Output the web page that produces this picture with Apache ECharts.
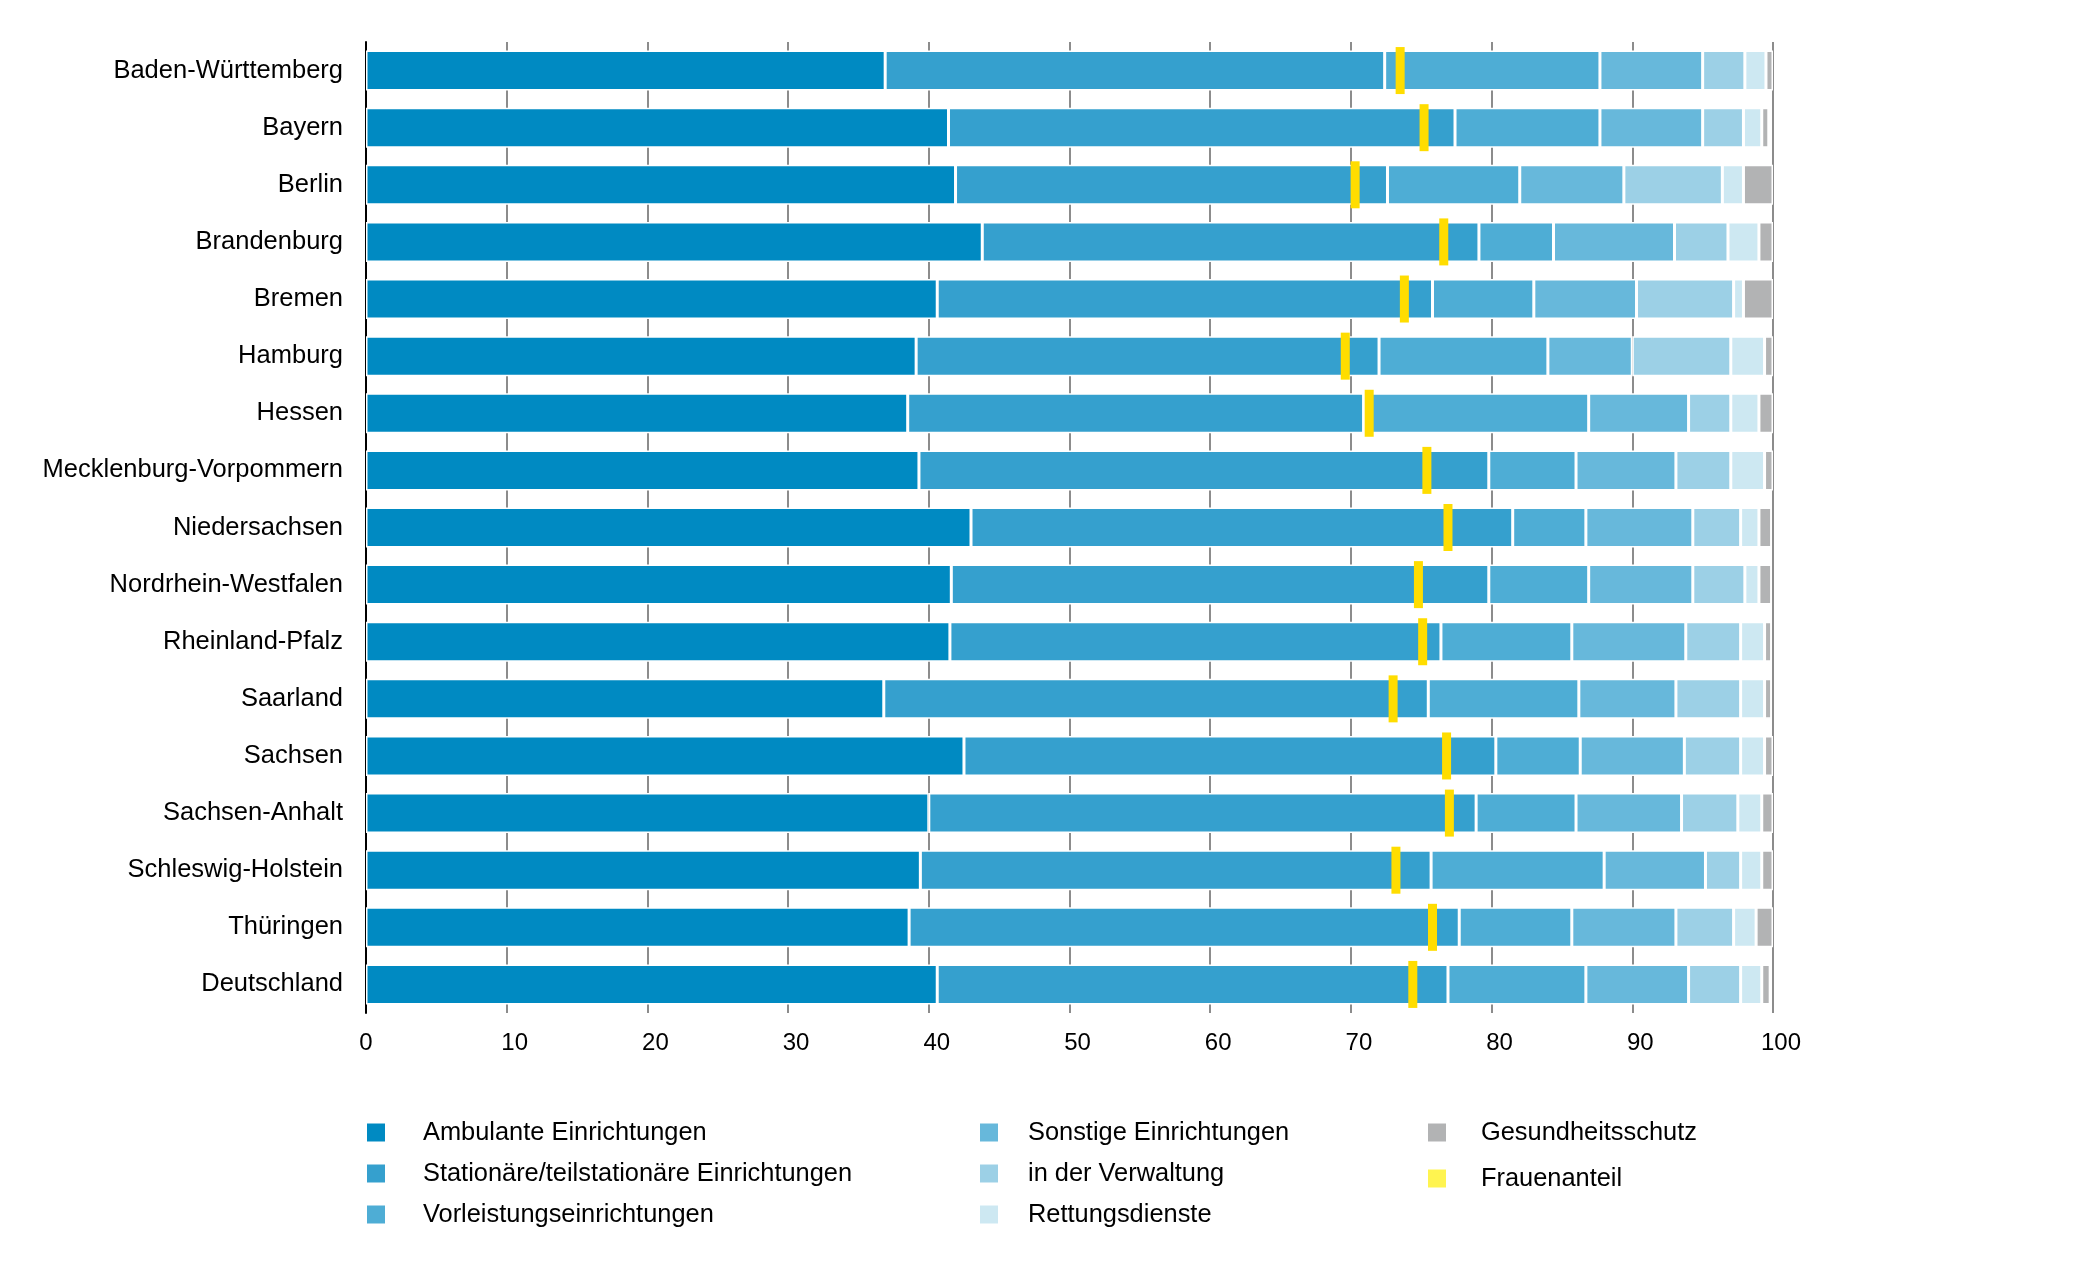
<!DOCTYPE html>
<html>
<head>
<meta charset="utf-8">
<script src="https://cdn.jsdelivr.net/npm/echarts@6/dist/echarts.min.js"></script>
<style>
  html, body { margin: 0; padding: 0; background: #fff; }
  #chart { width: 2075px; height: 1268px; }
</style>
</head>
<body>
<div id="chart"></div>
<script>
// Länder (von oben nach unten)
const laender = ['Baden-Württemberg', 'Bayern', 'Berlin', 'Brandenburg', 'Bremen', 'Hamburg', 'Hessen',
  'Mecklenburg-Vorpommern', 'Niedersachsen', 'Nordrhein-Westfalen', 'Rheinland-Pfalz', 'Saarland',
  'Sachsen', 'Sachsen-Anhalt', 'Schleswig-Holstein', 'Thüringen', 'Deutschland']

// Anteile in %
const ambulant     = [36.9, 41.4, 41.9, 43.8, 40.6, 39.1, 38.5, 39.3, 43.0, 41.6, 41.5, 36.8, 42.5, 40.0, 39.4, 38.6, 40.6]
const stationaer   = [35.5, 36.0, 30.7, 35.3, 35.2, 32.9, 32.4, 40.5, 38.5, 38.2, 34.9, 38.7, 37.8, 38.9, 36.3, 39.1, 36.3]
const vorleistung  = [15.3, 10.3,  9.4,  5.3,  7.2, 12.0, 16.0,  6.2,  5.2,  7.1,  9.3, 10.7,  6.0,  7.1, 12.3,  8.0,  9.8]
const sonstige     = [ 7.3,  7.3,  7.4,  8.6,  7.3,  6.0,  7.1,  7.1,  7.6,  7.4,  8.1,  6.9,  7.4,  7.5,  7.2,  7.4,  7.3]
const verwaltung   = [ 3.0,  2.9,  7.0,  3.8,  6.9,  7.0,  3.0,  3.9,  3.4,  3.7,  3.9,  4.6,  4.0,  4.0,  2.5,  4.1,  3.7]
const rettung      = [ 1.5,  1.3,  1.5,  2.2,  0.7,  2.4,  2.0,  2.4,  1.3,  1.0,  1.7,  1.7,  1.7,  1.7,  1.5,  1.6,  1.5]
const gesundheit   = [ 0.5,  0.5,  2.1,  1.0,  2.1,  0.6,  1.0,  0.6,  0.9,  0.9,  0.5,  0.5,  0.6,  0.8,  0.8,  1.2,  0.6]
const frauenanteil = [73.5, 75.2, 70.3, 76.6, 73.8, 69.6, 71.3, 75.4, 76.9, 74.8, 75.1, 73.0, 76.8, 77.0, 73.2, 75.8, 74.4]

const xTicks = [0, 10, 20, 30, 40, 50, 60, 70, 80, 90, 100]

const stackNames = ['Ambulante Einrichtungen', 'Stationäre/teilstationäre Einrichtungen', 'Vorleistungseinrichtungen',
  'Sonstige Einrichtungen', 'in der Verwaltung', 'Rettungsdienste', 'Gesundheitsschutz']
const stackData = [ambulant, stationaer, vorleistung, sonstige, verwaltung, rettung, gesundheit]
const stackColors = ['#008ac2', '#35a0ce', '#4eadd5', '#67b8db', '#9cd0e6', '#cde8f2', '#b2b3b4']

const font = "'Liberation Sans', Arial, sans-serif"

let chart = echarts.init(document.getElementById('chart'))

let series = stackData.map((d, i) => ({
    name: stackNames[i],
    type: 'bar',
    stack: 'total',
    barWidth: 40,
    color: stackColors[i],
    itemStyle: { borderColor: '#fff', borderWidth: 1.5 },
    data: d
}))
series.push({
    name: 'Frauenanteil',
    type: 'scatter',
    symbol: 'rect',
    symbolSize: [9, 47],
    color: '#ffdd00',
    itemStyle: { opacity: 1 },
    z: 5,
    data: frauenanteil.map((v, i) => [v, laender[i]])
})

// gemeinsame Legenden-Einstellungen
function legendCol(left, gap, textPad, data) {
    return {
        orient: 'vertical', left: left, top: 1120, padding: 0,
        icon: 'rect', itemWidth: 18, itemHeight: 18, itemGap: gap,
        itemStyle: { borderWidth: 0 },
        formatter: name => '{t|' + name + '}',
        textStyle: {
            fontFamily: font, fontSize: 25.4, color: '#000', lineHeight: 24,
            rich: { t: { fontFamily: font, fontSize: 25.4, color: '#000', padding: [0, 0, 0, textPad] } }
        },
        data: data
    }
}

let option = {
    backgroundColor: '#fff',
    animation: false,
    grid: { left: 366, right: 302, top: 42, bottom: 255, outerBoundsMode: 'none' },
    xAxis: {
        type: 'value',
        min: 0,
        max: 100,
        interval: 10,
        axisLine: { show: false },
        axisTick: { show: false },
        axisLabel: {
            fontFamily: font, fontSize: 24, color: '#000', margin: 18,
            formatter: v => !xTicks.includes(v) ? '' : (v === 0 ? '{z|0}' : '{n|' + v + '}'),
            rich: {
                z: { fontFamily: font, fontSize: 24, color: '#000' },
                n: { fontFamily: font, fontSize: 24, color: '#000', padding: [0, 0, 0, 16] }
            }
        },
        splitLine: { show: true, lineStyle: { color: '#8c8c8c', width: 2 } }
    },
    yAxis: {
        type: 'category',
        inverse: true,
        data: laender,
        axisLine: { show: true, lineStyle: { color: '#000', width: 2 } },
        axisTick: { show: false },
        axisLabel: { fontFamily: font, fontSize: 25.5, color: '#000', margin: 23 },
        splitLine: { show: false }
    },
    legend: [
        legendCol(367, 16, 33, stackNames.slice(0, 3)),
        legendCol(980, 16, 25, stackNames.slice(3, 6)),
        legendCol(1428, 21, 30, [stackNames[6], { name: 'Frauenanteil', itemStyle: { color: '#fff450' } }])
    ],
    series: series
}

chart.setOption(option)
</script>
</body>
</html>
